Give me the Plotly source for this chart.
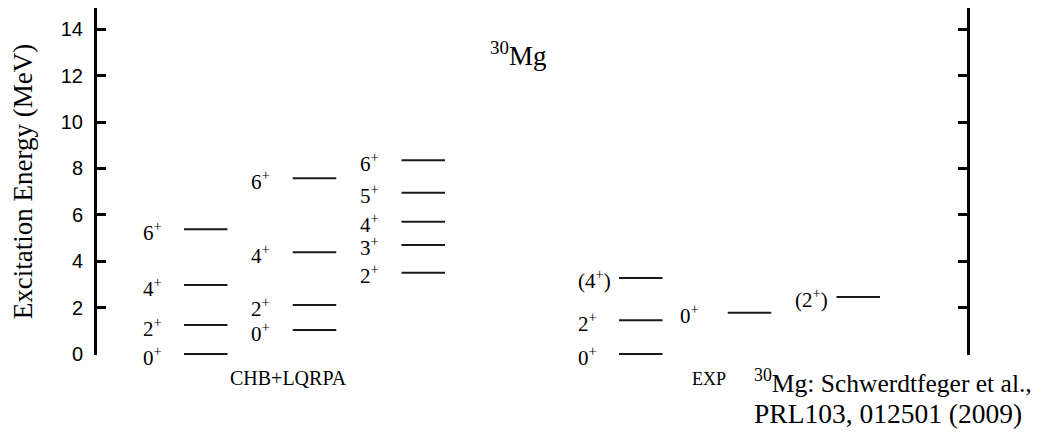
import plotly.graph_objects as go

# ---- data ----
columns = ["CHB+LQRPA GS", "CHB+LQRPA 0+2", "CHB+LQRPA band", "EXP GS", "EXP 0+2", "EXP 2+"]
col_start = [2.0, 4.5, 7.0, 12.0, 14.5, 17.0]       # x where each level bar begins
label_x = [1.0, 3.5, 6.0, 11.0, 13.35, 16.0]        # x of the level labels
energies = [
    [0.0, 1.25, 2.97, 5.38],
    [1.03, 2.11, 4.39, 7.58],
    [3.50, 4.70, 5.70, 6.95, 8.35],
    [0.0, 1.45, 3.28],
    [1.78],
    [2.46],
]
spins = [
    ["0<sup>+</sup>", "2<sup>+</sup>", "4<sup>+</sup>", "6<sup>+</sup>"],
    ["0<sup>+</sup>", "2<sup>+</sup>", "4<sup>+</sup>", "6<sup>+</sup>"],
    ["2<sup>+</sup>", "3<sup>+</sup>", "4<sup>+</sup>", "5<sup>+</sup>", "6<sup>+</sup>"],
    ["0<sup>+</sup>", "2<sup>+</sup>", "(4<sup>+</sup>)"],
    ["0<sup>+</sup>"],
    ["(2<sup>+</sup>)"],
]
y_ticks = [0, 2, 4, 6, 8, 10, 12, 14]
bar_width = 1.0

SERIF = "Liberation Serif"
SANS = "Liberation Sans"

fig = go.Figure()
annotations = []
for ci, (xs, es, labs, lx) in enumerate(zip(col_start, energies, spins, label_x)):
    xx, yy = [], []
    for e in es:
        xx += [xs, xs + bar_width, None]
        yy += [e, e, None]
    fig.add_trace(go.Scatter(x=xx, y=yy, mode="lines",
                             line=dict(color="#1a1a1a", width=2),
                             cliponaxis=False, showlegend=False,
                             hoverinfo="skip", name=columns[ci]))
    for e, lab in zip(es, labs):
        annotations.append(dict(x=lx, y=e, xref="x", yref="y", text=lab,
                                showarrow=False, xanchor="left", yanchor="middle",
                                yshift=-2, font=dict(family=SERIF, size=21, color="black")))

annotations += [
    dict(x=4.41, y=-0.066, xref="x", yref="paper", text="CHB+LQRPA", showarrow=False,
         xanchor="center", yanchor="middle", font=dict(family=SERIF, size=20, color="black")),
    dict(x=14.07, y=-0.069, xref="x", yref="paper", text="EXP", showarrow=False,
         xanchor="center", yanchor="middle", font=dict(family=SERIF, size=18, color="black")),
    dict(x=9.68, y=12.95, xref="x", yref="y", text="<sup>30</sup>Mg", showarrow=False,
         xanchor="center", yanchor="middle", font=dict(family=SERIF, size=27, color="black")),
    dict(x=15.06, y=-0.076, xref="x", yref="paper",
         text="<sup>30</sup>Mg: Schwerdtfeger et al.,",
         showarrow=False, xanchor="left", yanchor="middle",
         font=dict(family=SERIF, size=25.5, color="black")),
    dict(x=15.06, y=-0.17, xref="x", yref="paper",
         text="PRL103, 012501 (2009)",
         showarrow=False, xanchor="left", yanchor="middle",
         font=dict(family=SERIF, size=27.5, color="black")),
]

fig.update_layout(
    width=1037, height=424,
    margin=dict(l=89, r=78, t=0, b=77),
    paper_bgcolor="white", plot_bgcolor="white",
    font=dict(family=SERIF, color="black"),
    annotations=annotations,
    xaxis=dict(range=[0, 20], visible=False, fixedrange=True),
    yaxis=dict(range=[-0.043, 14.914], tickvals=y_ticks, ticks="inside", ticklen=9, tickwidth=3,
               tickcolor="black", showline=True, linewidth=3, linecolor="black",
               mirror="ticks", showgrid=False, zeroline=False, ticklabelstandoff=7,
               tickfont=dict(family=SANS, size=20, color="black"),
               title=dict(text="Excitation Energy (MeV)", standoff=22,
                          font=dict(family=SERIF, size=27, color="black"))),
)

fig.write_html("out.html")
